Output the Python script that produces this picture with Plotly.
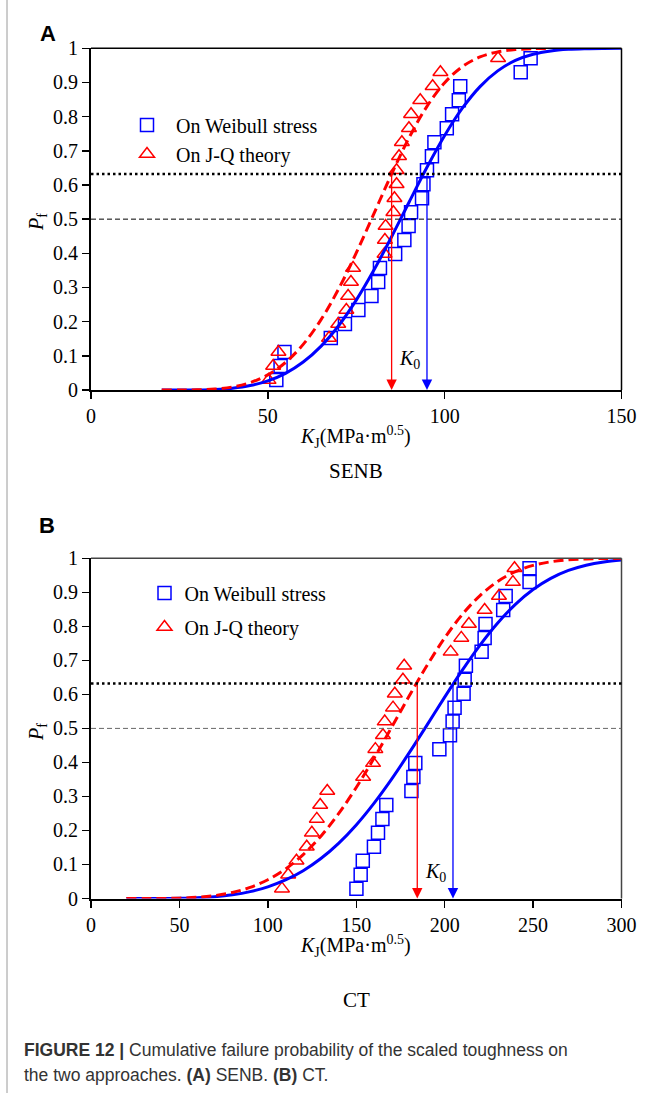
import plotly.graph_objects as go

# ---------------- data ----------------
pf_rank = [0.029, 0.070, 0.111, 0.152, 0.193, 0.234, 0.275, 0.316, 0.357, 0.398, 0.439, 0.480,
           0.520, 0.561, 0.602, 0.643, 0.684, 0.725, 0.766, 0.807, 0.848, 0.889, 0.930, 0.971]

senb_weibull_k = [52.4, 53.6, 54.7, 67.8, 71.8, 75.6, 79.3, 81.2, 81.7, 86.0, 88.6, 89.8,
                  90.5, 93.6, 94.0, 95.0, 96.4, 97.1, 100.6, 102.1, 104.0, 104.4, 121.5, 124.3]
senb_jq_k = [50.2, 51.5, 53.0, 67.3, 69.9, 72.2, 72.7, 73.5, 74.1, 83.0, 83.1, 83.3,
             85.5, 85.8, 86.4, 86.4, 87.1, 87.9, 89.9, 90.5, 93.1, 96.6, 98.8, 115.1]

ct_weibull_k = [150.1, 152.5, 153.7, 160.0, 162.3, 164.8, 167.0, 181.2, 182.3, 183.4, 197.0, 203.0,
                204.5, 205.6, 210.7, 211.3, 212.0, 220.9, 222.6, 223.1, 233.1, 234.5, 248.0, 248.0]
ct_jq_k = [108.0, 111.5, 116.2, 122.0, 124.9, 127.7, 129.6, 133.6, 153.9, 159.5, 160.8, 165.1,
           166.1, 170.8, 171.8, 176.4, 177.1, 203.4, 209.4, 213.7, 222.6, 230.7, 238.6, 239.5]

senb_curve_k_weibull = [20, 25, 30, 35, 40, 45, 50, 55, 60, 65, 70, 75, 80, 85, 90, 95, 100,
                        105, 110, 115, 120, 125, 130, 135, 140, 145, 150]
senb_curve_p_weibull = [0.0, 0.0000, 0.0003, 0.0017, 0.0053, 0.0129, 0.0267, 0.0488, 0.0818,
                        0.1278, 0.1881, 0.2630, 0.3509, 0.4486, 0.5510, 0.6519, 0.7449, 0.8246,
                        0.8879, 0.9339, 0.9644, 0.9826, 0.9924, 0.9971, 0.9990, 0.9997, 0.9999]
senb_curve_k_jq = [20, 25, 30, 35, 40, 45, 50, 55, 60, 65, 70, 75, 80, 85, 90, 95, 100,
                   105, 110, 115, 120, 125, 130]
senb_curve_p_jq = [0.0, 0.0000, 0.0006, 0.0028, 0.0089, 0.0216, 0.0444, 0.0806, 0.1336, 0.2052,
                   0.2954, 0.4011, 0.5162, 0.6321, 0.7395, 0.8301, 0.8992, 0.9463, 0.9747,
                   0.9896, 0.9963, 0.9989, 0.9997]

ct_curve_k = [20, 30, 40, 50, 60, 70, 80, 90, 100, 110, 120, 130, 140, 150, 160, 170, 180,
              190, 200, 210, 220, 230, 240, 250, 260, 270, 280, 290, 300]
ct_curve_p_weibull = [0.0, 0.0000, 0.0001, 0.0007, 0.0022, 0.0053, 0.0110, 0.0203, 0.0344,
                      0.0545, 0.0818, 0.1175, 0.1622, 0.2163, 0.2797, 0.3509, 0.4286, 0.5098,
                      0.5919, 0.6713, 0.7449, 0.8099, 0.8647, 0.9083, 0.9411, 0.9644, 0.9798,
                      0.9893, 0.9947]
ct_curve_p_jq = [0.0, 0.0000, 0.0002, 0.0011, 0.0035, 0.0086, 0.0178, 0.0326, 0.0550, 0.0867,
                 0.1291, 0.1832, 0.2492, 0.3262, 0.4120, 0.5033, 0.5958, 0.6848, 0.7658,
                 0.8350, 0.8905, 0.9320, 0.9608, 0.9791, 0.9898, 0.9955, 0.9982, 0.9994, 0.9998]

senb_k0 = [85.0, 95.0]   # J-Q, Weibull
ct_k0 = [184.5, 204.7]   # J-Q, Weibull
ref_levels = [0.632, 0.5]

y_ticks = [0, 0.1, 0.2, 0.3, 0.4, 0.5, 0.6, 0.7, 0.8, 0.9, 1.0]
y_ticktext = ["0", "0.1", "0.2", "0.3", "0.4", "0.5", "0.6", "0.7", "0.8", "0.9", "1"]
senb_xticks = [0, 50, 100, 150]
ct_xticks = [0, 50, 100, 150, 200, 250, 300]

# ---------------- styling ----------------
W, H = 653, 1093
BLUE = "#0000ff"
RED = "#ff0000"
SERIF = "Liberation Serif"
SANS = "Liberation Sans"

XDOM = [91 / W, 621.5 / W]
A_DOM = [1 - 390 / H, 1 - 48.3 / H]
B_DOM = [1 - 898.5 / H, 1 - 558.3 / H]

fig = go.Figure()


def add_panel(xa, ya, wk, jk, ck_w, cp_w, ck_j, cp_j, legend, grouped):
    fig.add_trace(go.Scatter(
        x=wk, y=pf_rank, mode="markers", name="On Weibull stress",
        xaxis=xa, yaxis=ya, legend=legend, cliponaxis=False,
        legendgroup=("w" + legend) if grouped else None,
        marker=dict(symbol="square-open", size=13, color=BLUE, line=dict(width=1.5, color=BLUE))))
    fig.add_trace(go.Scatter(
        x=jk, y=pf_rank, mode="markers", name="On J-Q theory",
        xaxis=xa, yaxis=ya, legend=legend, cliponaxis=False,
        legendgroup=("j" + legend) if grouped else None,
        marker=dict(symbol="triangle-up-open", size=13, color=RED, line=dict(width=1.5, color=RED))))
    fig.add_trace(go.Scatter(
        x=ck_w, y=cp_w, mode="lines", showlegend=False, xaxis=xa, yaxis=ya, cliponaxis=False,
        line=dict(color=BLUE, width=3, shape="spline")))
    fig.add_trace(go.Scatter(
        x=ck_j, y=cp_j, mode="lines", showlegend=False, xaxis=xa, yaxis=ya, cliponaxis=False,
        line=dict(color=RED, width=3, dash="10px,5px", shape="spline")))


add_panel("x", "y", senb_weibull_k, senb_jq_k, senb_curve_k_weibull, senb_curve_p_weibull,
          senb_curve_k_jq, senb_curve_p_jq, "legend", False)
add_panel("x2", "y2", ct_weibull_k, ct_jq_k, ct_curve_k, ct_curve_p_weibull,
          ct_curve_k, ct_curve_p_jq, "legend2", True)

tickfont = dict(family=SERIF, size=20, color="black")


def xax(dom, anchor, rng, tickvals):
    return dict(domain=dom, anchor=anchor, range=rng, tickmode="array", tickvals=tickvals,
                ticks="outside", ticklen=7, tickwidth=1.5, tickcolor="black",
                showline=True, linecolor="black", linewidth=2, showgrid=False, zeroline=False,
                tickfont=tickfont, layer="below traces", fixedrange=True, automargin=False)


def yax(dom, anchor):
    return dict(domain=dom, anchor=anchor, range=[0, 1], tickmode="array", tickvals=y_ticks,
                ticktext=y_ticktext, ticks="outside", ticklen=7, tickwidth=1.5, tickcolor="black",
                showline=True, linecolor="black", linewidth=2, showgrid=False, zeroline=False,
                tickfont=tickfont, layer="below traces", fixedrange=True, automargin=False)


def inner_x(over, anchor, rng):
    return dict(overlaying=over, anchor=anchor, range=rng, tickmode="linear", tick0=0, dtick=10,
                ticks="inside", ticklen=6, tickwidth=1.3, tickcolor="black", showticklabels=False,
                showline=False, showgrid=False, zeroline=False, layer="below traces", automargin=False)


def inner_y(over, anchor):
    return dict(overlaying=over, anchor=anchor, range=[0, 1], tickmode="linear", tick0=0, dtick=0.02,
                ticks="inside", ticklen=6, tickwidth=1.3, tickcolor="black", showticklabels=False,
                showline=False, showgrid=False, zeroline=False, layer="below traces", automargin=False)


legend_font = dict(family=SERIF, size=20, color="black")

fig.update_layout(
    width=W, height=H, margin=dict(l=0, r=0, t=0, b=0, pad=0, autoexpand=False),
    paper_bgcolor="white", plot_bgcolor="white",
    xaxis=xax(XDOM, "y", [0, 150], senb_xticks),
    yaxis=yax(A_DOM, "x"),
    xaxis2=xax(XDOM, "y2", [0, 300], ct_xticks),
    yaxis2=yax(B_DOM, "x2"),
    xaxis3=inner_x("x", "y", [0, 150]),
    yaxis3=inner_y("y", "x"),
    xaxis4=inner_x("x2", "y2", [0, 300]),
    yaxis4=inner_y("y2", "x2"),
    legend=dict(x=118 / W, y=1 - 105.5 / H, xanchor="left", yanchor="top", bgcolor="rgba(0,0,0,0)",
                borderwidth=0, font=legend_font, itemwidth=48, tracegroupgap=0),
    legend2=dict(x=144.5 / W, y=1 - 573.5 / H, xanchor="left", yanchor="top", bgcolor="rgba(0,0,0,0)",
                 borderwidth=0, font=legend_font, itemwidth=30, tracegroupgap=5,
                 traceorder="grouped"),
    showlegend=True,
)

shapes = [dict(type="line", xref="paper", yref="paper", x0=7 / W, x1=7 / W, y0=0, y1=1,
               line=dict(color="#9a9a9a", width=1))]
for xa, ya, bcol, mcol in [("x", "y", "black", "black"), ("x2", "y2", "#444444", "#666666")]:
    shapes.append(dict(type="line", xref=xa + " domain", yref=ya + " domain", x0=0, x1=1, y0=1, y1=1,
                       line=dict(color=bcol, width=1.5)))
    shapes.append(dict(type="line", xref=xa + " domain", yref=ya + " domain", x0=1, x1=1, y0=0, y1=1,
                       line=dict(color=bcol, width=1.5)))
    shapes.append(dict(type="line", xref=xa + " domain", yref=ya, x0=0, x1=1,
                       y0=ref_levels[0], y1=ref_levels[0],
                       line=dict(color="black", width=2.5, dash="2.5px,3px")))
    shapes.append(dict(type="line", xref=xa + " domain", yref=ya, x0=0, x1=1,
                       y0=ref_levels[1], y1=ref_levels[1],
                       line=dict(color=mcol, width=1, dash="5px,3px")))

ann = []
for xa, ya, k0s in [("x", "y", senb_k0), ("x2", "y2", ct_k0)]:
    for k, col in zip(k0s, [RED, BLUE]):
        ann.append(dict(x=k, y=0, ax=k, ay=ref_levels[0], xref=xa, yref=ya, axref=xa, ayref=ya,
                        text="", showarrow=True, arrowhead=2, arrowsize=1.6, arrowwidth=1.3,
                        arrowcolor=col))

k0_text = "<i>K</i><sub>0</sub>"
ann.append(dict(x=90.1, y=0.088, xref="x", yref="y", text=k0_text, showarrow=False,
                font=dict(family=SERIF, size=20, color="black")))
ann.append(dict(x=194.9, y=0.077, xref="x2", yref="y2", text=k0_text, showarrow=False,
                font=dict(family=SERIF, size=20, color="black")))


def pxy(px, py):
    return px / W, 1 - py / H


xtitle = "<i>K</i><sub>J</sub>(MPa·m<sup>0.5</sup>)"
ytitle = "<i>P</i><sub>f</sub>"
for (px, py), txt, size, fam, ang in [
    ((356, 437), xtitle, 20, SERIF, 0),
    ((356, 946), xtitle, 20, SERIF, 0),
    ((37, 222), ytitle, 20, SERIF, -90),
    ((37, 732), ytitle, 20, SERIF, -90),
    ((356, 471), "SENB", 21, SERIF, 0),
    ((357, 1000), "CT", 21, SERIF, 0),
    ((47.5, 33), "<b>A</b>", 22, SANS, 0),
    ((47, 525), "<b>B</b>", 22, SANS, 0),
]:
    x, y = pxy(px, py)
    ann.append(dict(x=x, y=y, xref="paper", yref="paper", text=txt, showarrow=False,
                    textangle=ang, xanchor="center", yanchor="middle",
                    font=dict(family=fam, size=size, color="black")))

cap_font = dict(family=SANS, size=17.5, color="#333333")
for py, txt in [(1050, "<b>FIGURE 12 |</b> Cumulative failure probability of the scaled toughness on"),
                (1075, "the two approaches. <b>(A)</b> SENB. <b>(B)</b> CT.")]:
    x, y = pxy(22, py)
    ann.append(dict(x=x, y=y, xref="paper", yref="paper", text=txt, showarrow=False,
                    xanchor="left", yanchor="middle", align="left", font=cap_font))

fig.update_layout(shapes=shapes, annotations=ann)
fig.write_html("out.html", config={"displayModeBar": False, "staticPlot": True},
               post_script="document.body.style.margin='0px';document.body.style.overflow='hidden';")
